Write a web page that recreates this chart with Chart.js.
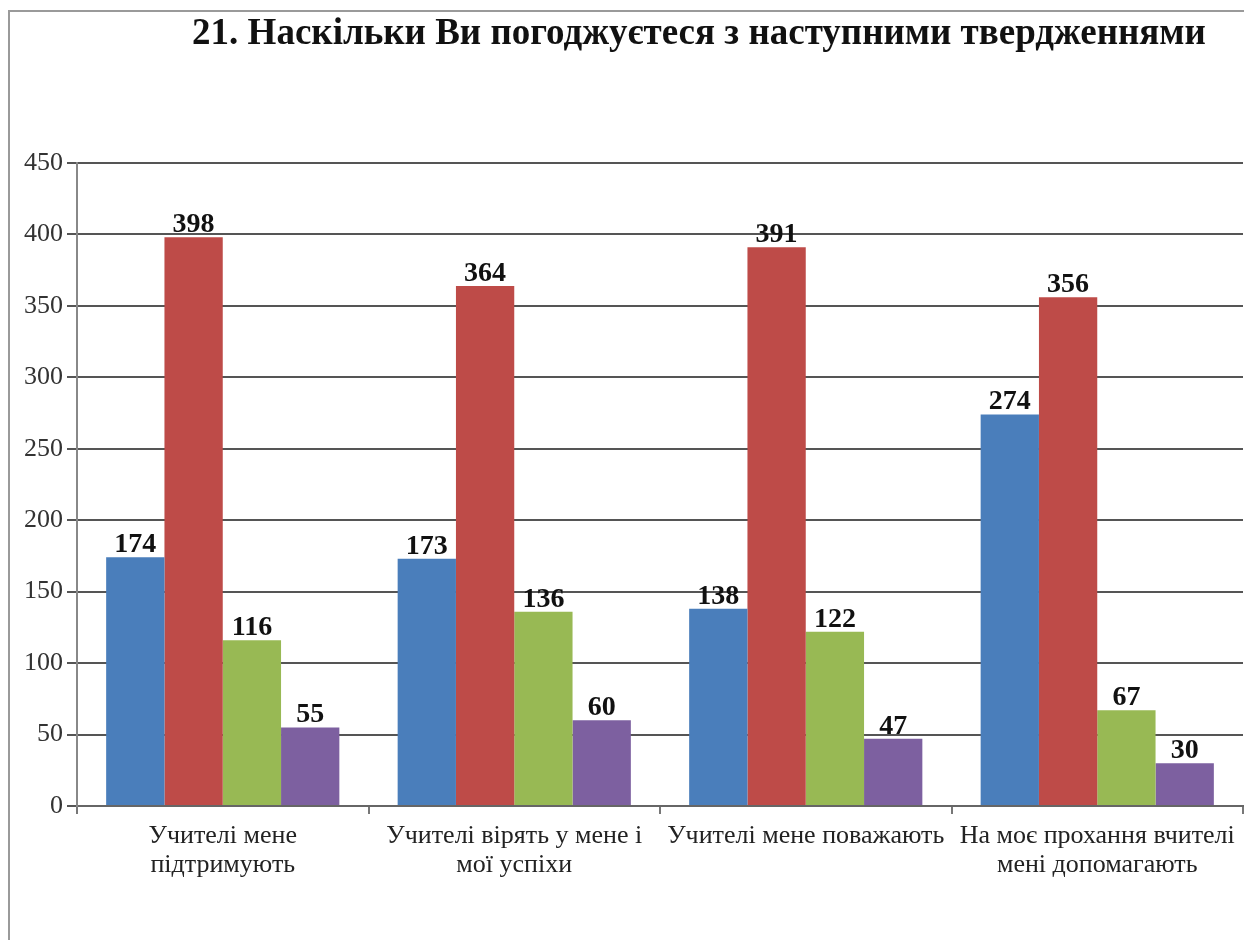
<!DOCTYPE html>
<html>
<head>
<meta charset="utf-8">
<script src="https://cdn.jsdelivr.net/npm/chart.js@4/dist/chart.umd.min.js"></script>
<style>
  html, body { margin: 0; padding: 0; background: #fff; }
  #wrap { width: 1244px; height: 940px; position: relative; }
</style>
</head>
<body>
<div id="wrap"><canvas id="chart"></canvas></div>
<script>
// chart data
var chartTitle = '21. Наскільки Ви погоджуєтеся з наступними твердженнями';
var categories = [
    ['Учителі мене', 'підтримують'],
    ['Учителі вірять у мене і', 'мої успіхи'],
    'Учителі мене поважають',
    ['На моє прохання вчителі', 'мені допомагають']
];
var seriesBlue = [174, 173, 138, 274];
var seriesRed = [398, 364, 391, 356];
var seriesGreen = [116, 136, 122, 67];
var seriesPurple = [55, 60, 47, 30];
var yTicks = [0, 50, 100, 150, 200, 250, 300, 350, 400, 450];

var serif = '"Liberation Serif", "Times New Roman", serif';

// frame + title, drawn behind the chart
var framePlugin = {
    id: 'frame',
    beforeDraw: function (chart) {
        var ctx = chart.ctx;
        ctx.save();
        ctx.fillStyle = '#fff';
        ctx.fillRect(0, 0, chart.width, chart.height);
        ctx.strokeStyle = '#9a9a9a';
        ctx.lineWidth = 2;
        ctx.strokeRect(9, 11, chart.width + 20, chart.height + 20);
        ctx.fillStyle = '#111';
        ctx.font = 'bold 37px ' + serif;
        ctx.textAlign = 'center';
        ctx.textBaseline = 'alphabetic';
        ctx.fillText(chartTitle, 699, 44);
        ctx.restore();
    }
};

// value labels above each bar
var valuePlugin = {
    id: 'values',
    afterDatasetsDraw: function (chart) {
        var ctx = chart.ctx;
        ctx.save();
        ctx.fillStyle = '#111';
        ctx.font = 'bold 28px ' + serif;
        ctx.textAlign = 'center';
        ctx.textBaseline = 'alphabetic';
        chart.data.datasets.forEach(function (ds, i) {
            var meta = chart.getDatasetMeta(i);
            meta.data.forEach(function (bar, j) {
                ctx.fillText(ds.data[j], bar.x, bar.y - 5);
            });
        });
        ctx.restore();
    }
};

var chart = new Chart(document.getElementById('chart').getContext('2d'), {
    type: 'bar',
    data: {
        labels: categories,
        datasets: [
            { data: seriesBlue, backgroundColor: '#4a7ebb' },
            { data: seriesRed, backgroundColor: '#be4b48' },
            { data: seriesGreen, backgroundColor: '#98b954' },
            { data: seriesPurple, backgroundColor: '#7d60a0' }
        ]
    },
    options: {
        responsive: true,
        maintainAspectRatio: false,
        animation: false,
        events: [],
        layout: { padding: { top: 163, right: 1, left: 0, bottom: 0 } },
        datasets: { bar: { categoryPercentage: 0.8, barPercentage: 1, borderWidth: 0 } },
        plugins: {
            legend: { display: false },
            tooltip: { enabled: false },
            title: { display: false }
        },
        scales: {
            x: {
                grid: {
                    offset: true,
                    drawOnChartArea: false,
                    drawTicks: true,
                    tickLength: 8,
                    color: '#777',
                    lineWidth: 2
                },
                border: { color: '#666', width: 2 },
                ticks: {
                    autoSkip: false,
                    maxRotation: 0,
                    minRotation: 0,
                    padding: 8,
                    color: '#222',
                    font: { family: serif, size: 26, lineHeight: 1.1 }
                },
                afterFit: function (scale) { scale.height = 134; }
            },
            y: {
                min: 0,
                max: 450,
                afterBuildTicks: function (scale) {
                    scale.ticks = yTicks.map(function (v) { return { value: v }; });
                },
                grid: {
                    color: '#555',
                    lineWidth: 2,
                    tickLength: 10,
                    drawTicks: true
                },
                border: { color: '#888', width: 2 },
                ticks: {
                    padding: 4,
                    color: '#333',
                    font: { family: serif, size: 26 }
                },
                afterFit: function (scale) { scale.width = 77; }
            }
        }
    },
    plugins: [framePlugin, valuePlugin]
});
</script>
</body>
</html>
